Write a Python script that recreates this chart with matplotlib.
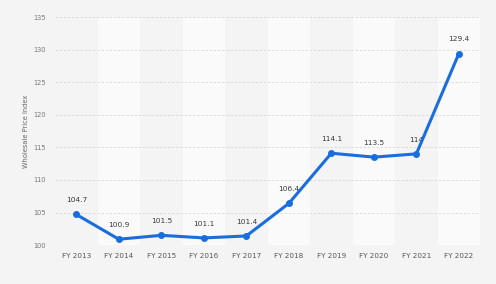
import matplotlib.pyplot as plt

years = ['FY 2013', 'FY 2014', 'FY 2015', 'FY 2016', 'FY 2017',
         'FY 2018', 'FY 2019', 'FY 2020', 'FY 2021', 'FY 2022']
wpi = [104.7, 100.9, 101.5, 101.1, 101.4, 106.4, 114.1, 113.5, 114.0, 129.4]
labels = ['104.7', '100.9', '101.5', '101.1', '101.4', '106.4', '114.1', '113.5', '114', '129.4']

bg = '#f4f4f4'
fig = plt.figure(figsize=(4.96, 2.84), dpi=100, facecolor=bg)
ax = fig.add_axes([0.111, 0.137, 0.857, 0.803])
ax.set_facecolor(bg)

x = list(range(len(years)))

# alternating column bands
for i in x:
    if i % 2 == 1:
        ax.axvspan(i - 0.5, i + 0.5, color='#fafafa', zorder=0, lw=0)

ax.set_ylim(100, 135)
ax.set_xlim(-0.5, len(years) - 0.5)
ax.set_yticks(range(100, 136, 5))
ax.grid(axis='y', color='#d8d8d8', linestyle=(0, (3, 2)), linewidth=0.6, zorder=1)
ax.set_axisbelow(True)

for i, (v, t) in enumerate(zip(wpi, labels)):
    ax.annotate(t, (i, v), xytext=(0, 8), textcoords='offset points',
                ha='center', va='bottom', fontsize=5.3, color='#3a3a3a', zorder=2)

ax.plot(x, wpi, color='#1a6ddf', lw=2.2, marker='o', markersize=4, zorder=3,
        solid_capstyle='round', solid_joinstyle='round')

ax.set_xticks(x)
ax.set_xticklabels(years)
ax.tick_params(axis='x', length=0, labelsize=5.2, labelcolor='#555555', pad=6)
ax.tick_params(axis='y', length=0, labelsize=4.8, labelcolor='#777777', pad=6.5)
for s in ax.spines.values():
    s.set_visible(False)

ax.set_ylabel('Wholesale Price Index', fontsize=4.8, color='#666666', labelpad=3)

fig.savefig('out.png', dpi=100, facecolor=bg)
